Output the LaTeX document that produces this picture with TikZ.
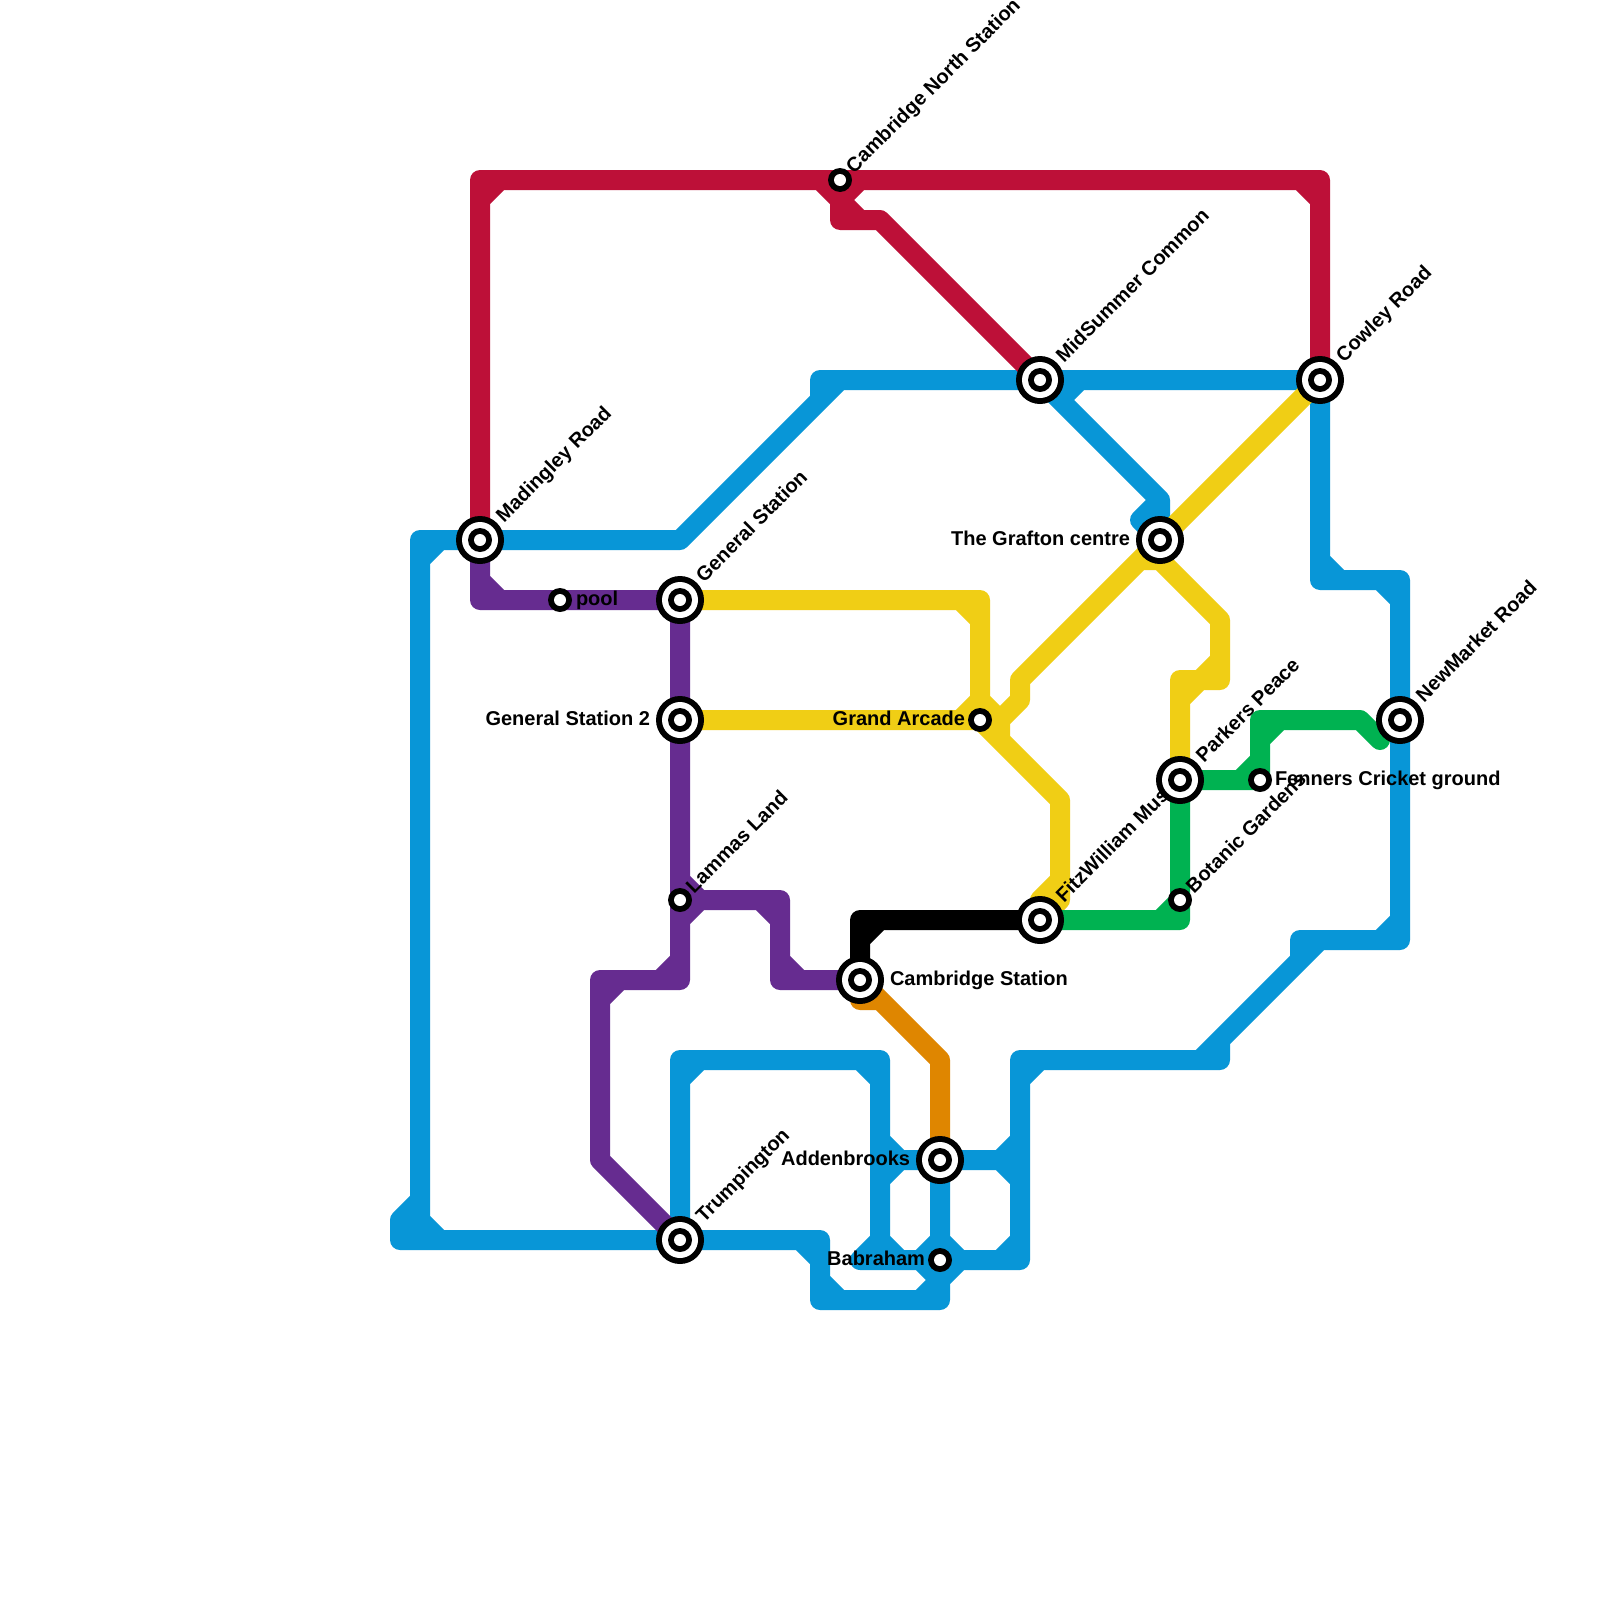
\documentclass[tikz,border=0pt]{standalone}
\usepackage{fontspec}
\setmainfont{Liberation Sans}
\usetikzlibrary{calc}
\pgfdeclarelayer{labellayer}
\pgfdeclarelayer{stationlayer}
\pgfsetlayers{main,labellayer,stationlayer}
\definecolor{lred}{HTML}{BD1038}
\definecolor{lblue}{HTML}{0896D7}
\definecolor{lgreen}{HTML}{00B251}
\definecolor{lyellow}{HTML}{F0CE15}
\definecolor{lorange}{HTML}{DF8600}
\definecolor{lpurple}{HTML}{662C90}
\tikzset{
  metro/.style={line width=20pt,line cap=round,line join=round},
  bigstation/.style={circle,fill=black,draw=none,minimum size=48pt,inner sep=0pt,
    path picture={
      \fill[white] (path picture bounding box.center) circle (18pt);
      \fill[black] (path picture bounding box.center) circle (12pt);
      \fill[white] (path picture bounding box.center) circle (6pt);}},
  smallstation/.style={circle,fill=black,draw=none,minimum size=24pt,inner sep=0pt,
    path picture={
      \fill[white] (path picture bounding box.center) circle (6pt);}},
  lab/.style={inner sep=0pt,outer sep=0pt,font=\fontsize{20}{24}\selectfont\bfseries,text=black},
  labrise/.style={lab,anchor=base west,rotate=45},
  labright/.style={lab,anchor=base west},
  lableft/.style={lab,anchor=base east},
}
\begin{document}
\begin{tikzpicture}[x=1pt,y=-1pt]
\useasboundingbox (0,0) rectangle (1600,1600);
\fill[white] (0,0) rectangle (1600,1600);

\begin{pgfonlayer}{stationlayer}
\node[bigstation] (mad) at (480,540) {};
\node[bigstation] (gen) at (680,600) {};
\node[bigstation] (gentwo) at (680,720) {};
\node[bigstation] (cam) at (860,980) {};
\node[bigstation] (tru) at (680,1240) {};
\node[bigstation] (mid) at (1040,380) {};
\node[bigstation] (cow) at (1320,380) {};
\node[bigstation] (gra) at (1160,540) {};
\node[bigstation] (par) at (1180,780) {};
\node[bigstation] (fit) at (1040,920) {};
\node[bigstation] (new) at (1400,720) {};
\node[bigstation] (add) at (940,1160) {};
\node[smallstation] (lam) at (680,900) {};
\node[smallstation] (poo) at (560,600) {};
\node[smallstation] (nor) at (840,180) {};
\node[smallstation] (arc) at (980,720) {};
\node[smallstation] (fen) at (1260,780) {};
\node[smallstation] (bot) at (1180,900) {};
\node[smallstation] (bab) at (940,1260) {};
\end{pgfonlayer}

% blue
\draw[metro,lblue]
  (cow.center) -- (mid.center) -- (820,380) -- (820,400) -- (680,540) -- (mad.center) -- (420,540) -- (420,1240)
  (820,400) -- (840,380)
  (420,560) -- (440,540)
  (420,1220) -- (440,1240)
  (420,1200) -- (400,1220) -- (400,1240) -- (tru.center) -- (820,1240) -- (820,1300) -- (940,1300) -- (bab.center) -- (add.center)
  (800,1240) -- (820,1260)
  (820,1280) -- (840,1300)
  (920,1300) -- (940,1280)
  (920,1260) -- (940,1280) -- (960,1260)
  (tru.center) -- (680,1060) -- (880,1060) -- (880,1240) -- (860,1260) -- (bab.center) -- (1020,1260) -- (1020,1060) -- (1220,1060) -- (1220,1040) -- (1300,960) -- (1300,940) -- (1400,940) -- (new.center) -- (1400,580) -- (1320,580) -- (cow.center)
  (1200,1060) -- (1220,1040)
  (1300,960) -- (1320,940)
  (680,1080) -- (700,1060)
  (860,1060) -- (880,1080)
  (880,1240) -- (900,1260)
  (920,1260) -- (940,1240) -- (960,1260)
  (1000,1260) -- (1020,1240)
  (880,1160) -- (add.center) -- (1020,1160)
  (880,1140) -- (900,1160) -- (880,1180)
  (1020,1140) -- (1000,1160) -- (1020,1180)
  (1020,1080) -- (1040,1060)
  (1380,940) -- (1400,920)
  (1380,580) -- (1400,600)
  (1320,560) -- (1340,580)
  (mid.center) -- (1160,500) -- (gra.center) -- (1140,520) -- (1160,500)
  (1060,400) -- (1080,380);

% red
\draw[metro,lred]
  (mad.center) -- (480,180) -- (nor.center) -- (1320,180) -- (cow.center)
  (480,200) -- (500,180)
  (1300,180) -- (1320,200)
  (nor.center) -- (840,220) -- (880,220) -- (mid.center)
  (820,180) -- (840,200) -- (860,180)
  (840,200) -- (860,220);

% purple
\draw[metro,lpurple]
  (mad.center) -- (480,600) -- (poo.center) -- (gen.center) -- (gentwo.center) -- (lam.center) -- (680,980) -- (600,980) -- (600,1160) -- (tru.center)
  (480,580) -- (500,600)
  (660,980) -- (680,960)
  (600,1000) -- (620,980)
  (lam.center) -- (780,900) -- (780,980) -- (cam.center)
  (680,880) -- (700,900) -- (680,920)
  (760,900) -- (780,920)
  (780,960) -- (800,980);

% yellow
\draw[metro,lyellow]
  (gen.center) -- (980,600) -- (arc.center)
  (960,600) -- (980,620)
  (gentwo.center) -- (arc.center) -- (1060,800) -- (1060,900) -- (fit.center)
  (960,720) -- (980,700) -- (1000,720) -- (1000,740)
  (1000,720) -- (1020,700) -- (1020,680) -- (gra.center) -- (cow.center)
  (1060,880) -- (1040,900) -- (fit.center)
  (1140,560) -- (1160,560) -- (1220,620) -- (1220,680) -- (1180,680) -- (par.center)
  (1180,700) -- (1200,680) -- (1220,660);

% green
\draw[metro,lgreen]
  (fit.center) -- (1180,920) -- (bot.center) -- (par.center) -- (fen.center) -- (1260,720) -- (1360,720) -- (1380,740)
  (1160,920) -- (bot.center)
  (1240,780) -- (1260,760)
  (1260,740) -- (1280,720);

% black
\draw[metro,black]
  (fit.center) -- (860,920) -- (cam.center)
  (860,940) -- (880,920);

% orange
\draw[metro,lorange]
  (cam.center) -- (860,1000) -- (880,1000)
  (cam.center) -- (940,1060) -- (add.center);

\begin{pgfonlayer}{labellayer}
\node[labrise] (tmad) at ($(mad.center)+(24,-17)$) {Madingley Road};
\node[labrise] (tgen) at ($(gen.center)+(24,-17)$) {General Station};
\node[labrise] (tmid) at ($(mid.center)+(24,-17)$) {MidSummer Common};
\node[labrise] (tcow) at ($(cow.center)+(24,-17)$) {Cowley Road};
\node[labrise] (tnew) at ($(new.center)+(24,-17)$) {NewMarket Road};
\node[labrise] (tpar) at ($(par.center)+(24,-17)$) {Parkers Peace};
\node[labrise] (tfit) at ($(fit.center)+(24,-17)$) {FitzWilliam Museum};
\node[labrise] (ttru) at ($(tru.center)+(24,-17)$) {Trumpington};
\node[labrise] (tnor) at ($(nor.center)+(14,-6)$) {Cambridge North Station};
\node[labrise] (tlam) at ($(lam.center)+(14,-6)$) {Lammas Land};
\node[labrise] (tbot) at ($(bot.center)+(14,-6)$) {Botanic Gardens};
\node[labright] (tcam) at ($(cam.center)+(30,5)$) {Cambridge Station};
\node[labright] (tpoo) at ($(poo.center)+(16,5)$) {pool};
\node[labright] (tfen) at ($(fen.center)+(15,5)$) {Fenners Cricket ground};
\node[lableft] (tgra) at ($(gra.center)+(-30,5)$) {The Grafton centre};
\node[lableft] (tgtw) at ($(gentwo.center)+(-30,5)$) {General Station 2};
\node[lableft] (tarc) at ($(arc.center)+(-15,5)$) {Grand Arcade};
\node[lableft] (tadd) at ($(add.center)+(-30,5)$) {Addenbrooks};
\node[lableft] (tbab) at ($(bab.center)+(-15,5)$) {Babraham};
\end{pgfonlayer}
\end{tikzpicture}
\end{document}
